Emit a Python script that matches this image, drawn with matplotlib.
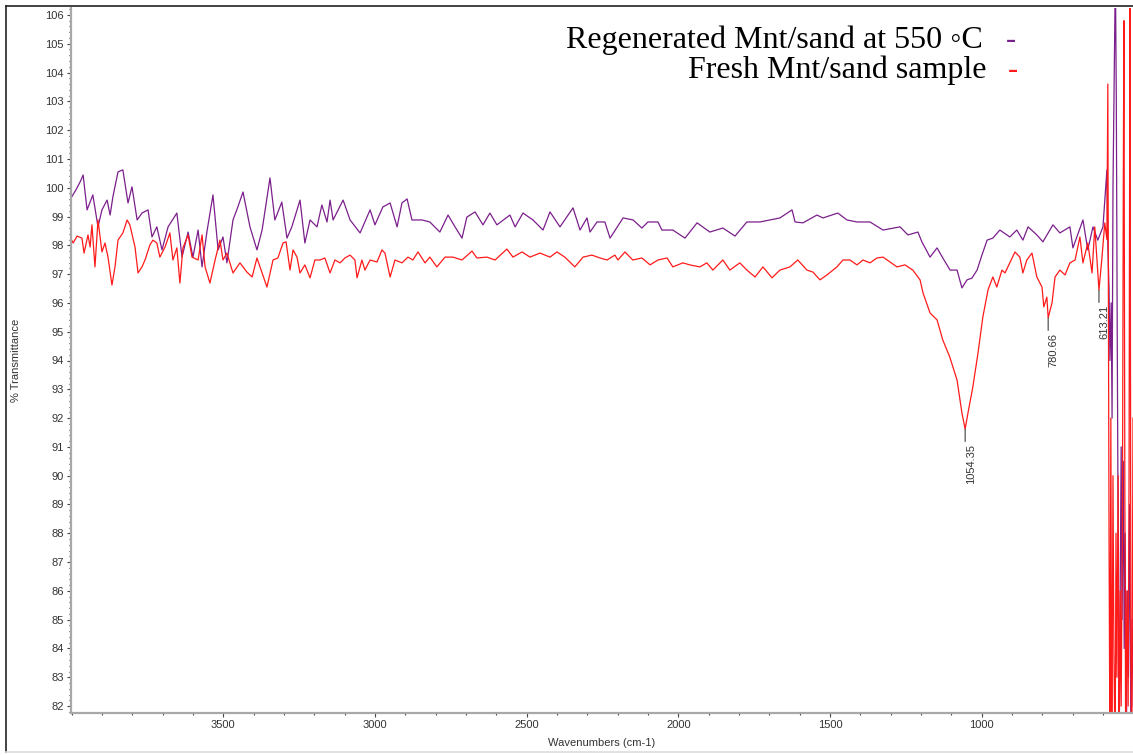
import matplotlib
matplotlib.use("Agg")
import matplotlib.pyplot as plt
from matplotlib.lines import Line2D
from matplotlib.ticker import MultipleLocator

# Regenerated Mnt/sand at 550 C  (purple)
regen_wn = [4002, 3986, 3972, 3962, 3949, 3930, 3913, 3900, 3883, 3873, 3864, 3847, 3831, 3814,
            3801, 3784, 3768, 3748, 3735, 3719, 3702, 3682, 3653, 3636, 3616, 3600, 3583, 3570,
            3554, 3534, 3517, 3501, 3488, 3468, 3452, 3435, 3412, 3389, 3372, 3346, 3330, 3307,
            3290, 3274, 3247, 3231, 3214, 3191, 3175, 3158, 3148, 3138, 3105, 3082, 3049, 3016,
            3000, 2974, 2950, 2927, 2911, 2894, 2878, 2845, 2819, 2786, 2759, 2736, 2713, 2697,
            2670, 2644, 2621, 2598, 2555, 2538, 2512, 2479, 2446, 2423, 2390, 2347, 2324, 2301,
            2291, 2268, 2242, 2225, 2182, 2149, 2120, 2100, 2067, 2054, 2018, 1978, 1938, 1896,
            1853, 1813, 1774, 1731, 1698, 1665, 1625, 1615, 1589, 1543, 1523, 1474, 1444, 1411,
            1368, 1325, 1269, 1243, 1210, 1197, 1170, 1147, 1128, 1104, 1081, 1065, 1048, 1032,
            1015, 999, 982, 963, 940, 907, 884, 864, 847, 818, 798, 765, 742, 709, 699, 666, 650,
            633, 617, 600, 587, 584, 580, 577, 573, 570, 567, 563, 559, 556, 553, 550, 547, 543,
            540, 537, 533, 530, 527, 523, 520, 516, 512, 508, 504, 500]
regen_t = [99.64, 99.92, 100.20, 100.44, 99.23, 99.75, 98.64, 99.23, 99.57, 99.05, 99.68, 100.55,
           100.62, 99.47, 100.03, 98.88, 99.12, 99.23, 98.29, 98.64, 97.84, 98.64, 99.12, 97.59,
           98.46, 97.59, 98.53, 97.25, 98.46, 99.75, 97.84, 98.29, 97.39, 98.88, 99.33, 99.85,
           98.64, 97.84, 98.53, 100.34, 98.88, 99.50, 98.25, 98.64, 99.57, 98.08, 98.88, 98.64,
           99.40, 98.81, 99.57, 98.88, 99.57, 98.88, 98.43, 99.23, 98.71, 99.33, 99.47, 98.64,
           99.47, 99.61, 98.88, 98.88, 98.81, 98.46, 99.05, 98.64, 98.25, 98.98, 99.16, 98.71,
           99.12, 98.71, 99.05, 98.64, 99.12, 98.88, 98.53, 99.16, 98.64, 99.30, 98.53, 98.95,
           98.46, 98.81, 98.81, 98.25, 98.95, 98.88, 98.60, 98.81, 98.81, 98.53, 98.53, 98.25,
           98.78, 98.46, 98.60, 98.32, 98.81, 98.81, 98.88, 98.95, 99.23, 98.81, 98.78, 99.05,
           98.95, 99.12, 98.88, 98.81, 98.81, 98.53, 98.64, 98.36, 98.46, 98.12, 97.59, 97.91,
           97.56, 97.14, 97.14, 96.52, 96.80, 96.86, 97.14, 97.66, 98.18, 98.25, 98.53, 98.29,
           98.53, 98.18, 98.64, 98.36, 98.12, 98.71, 98.43, 98.64, 97.91, 98.88, 97.84, 98.64,
           98.18, 98.64, 100.62, 98.0, 96.5, 94.0, 96.0, 92.0, 100.0, 104.0, 107.5, 103.0, 95.0,
           88.0, 80.0, 86.0, 91.0, 85.0, 90.5, 84.0, 88.0, 80.0, 86.0, 83.0, 89.0, 81.0, 85.0, 82.0]

# Fresh Mnt/sand sample (red)
fresh_wn = [4005, 3995, 3982, 3966, 3959, 3946, 3939, 3933, 3923, 3913, 3900, 3890, 3880, 3867,
            3857, 3847, 3831, 3817, 3808, 3791, 3781, 3768, 3758, 3742, 3732, 3719, 3709, 3692,
            3676, 3666, 3653, 3643, 3633, 3616, 3603, 3583, 3570, 3560, 3544, 3527, 3511, 3501,
            3488, 3468, 3445, 3422, 3405, 3389, 3372, 3356, 3336, 3320, 3303, 3293, 3280, 3270,
            3257, 3247, 3231, 3214, 3198, 3181, 3165, 3148, 3132, 3115, 3099, 3082, 3066, 3059,
            3043, 3033, 3016, 2993, 2977, 2967, 2950, 2934, 2911, 2891, 2875, 2858, 2835, 2819,
            2796, 2769, 2743, 2713, 2680, 2664, 2631, 2604, 2565, 2545, 2515, 2489, 2456, 2423,
            2400, 2374, 2341, 2314, 2285, 2258, 2235, 2209, 2199, 2176, 2150, 2120, 2093, 2067,
            2037, 2018, 1985, 1962, 1929, 1906, 1886, 1853, 1830, 1797, 1774, 1747, 1721, 1691,
            1665, 1632, 1606, 1576, 1556, 1533, 1510, 1477, 1457, 1434, 1411, 1391, 1368, 1345,
            1325, 1302, 1279, 1253, 1227, 1203, 1193, 1170, 1147, 1128, 1105, 1081, 1065, 1054.35,
            1045, 1029, 1012, 996, 979, 963, 950, 933, 923, 907, 890, 874, 864, 851, 834, 818,
            801, 795, 785, 780.66, 768, 758, 742, 725, 709, 692, 676, 666, 650, 636, 627, 613.21,
            604, 594, 587, 584, 580, 577, 574, 571, 567, 564, 560, 557, 554, 550, 547, 543, 540,
            536, 533, 531, 528, 525, 521, 517, 514, 511, 508, 505, 501]
fresh_t = [98.29, 98.08, 98.32, 98.25, 97.73, 98.36, 97.94, 98.71, 97.25, 98.88, 97.77, 98.08,
           97.59, 96.62, 97.25, 98.18, 98.43, 98.88, 98.71, 97.94, 97.04, 97.25, 97.49, 98.01,
           98.18, 98.08, 97.59, 97.94, 98.43, 97.49, 97.91, 96.69, 97.91, 98.36, 97.59, 97.49,
           98.36, 97.25, 96.69, 97.49, 98.18, 97.49, 97.73, 97.04, 97.39, 97.07, 96.90, 97.56,
           97.04, 96.55, 97.49, 97.56, 98.08, 98.12, 97.14, 97.84, 97.59, 97.04, 97.32, 96.87,
           97.49, 97.49, 97.56, 97.04, 97.49, 97.39, 97.56, 97.66, 97.49, 96.87, 97.49, 97.14,
           97.49, 97.42, 97.84, 97.73, 96.90, 97.49, 97.39, 97.59, 97.49, 97.77, 97.39, 97.59,
           97.25, 97.59, 97.59, 97.49, 97.80, 97.56, 97.59, 97.49, 97.87, 97.59, 97.77, 97.59,
           97.73, 97.59, 97.77, 97.59, 97.25, 97.59, 97.66, 97.56, 97.49, 97.66, 97.49, 97.77,
           97.49, 97.56, 97.32, 97.49, 97.56, 97.25, 97.39, 97.32, 97.25, 97.39, 97.14, 97.49,
           97.14, 97.39, 97.14, 96.90, 97.25, 96.87, 97.14, 97.25, 97.49, 97.14, 97.07, 96.80,
           96.97, 97.25, 97.49, 97.49, 97.32, 97.49, 97.39, 97.56, 97.59, 97.42, 97.25, 97.32,
           97.14, 96.80, 96.34, 95.65, 95.41, 94.71, 94.12, 93.32, 92.18, 91.62, 92.18, 93.08,
           94.26, 95.51, 96.45, 96.90, 96.55, 97.14, 97.04, 97.39, 97.77, 97.59, 97.04, 97.49,
           97.73, 96.90, 96.55, 95.86, 96.20, 95.48, 96.00, 96.90, 97.14, 96.97, 97.39, 97.49,
           98.29, 97.39, 98.08, 97.04, 98.64, 96.45, 97.49, 98.78, 98.2, 103.6, 88.0, 80.0, 92.0,
           79.0, 90.0, 84.0, 80.0, 88.0, 83.0, 90.0, 80.0, 86.0, 82.0, 88.0, 100.0, 105.8, 90.0,
           80.0, 86.0, 82.0, 90.0, 107.0, 84.0, 80.0, 92.0]

peak_wn = [1054.35, 780.66, 613.21]
peak_t = [91.62, 95.48, 96.45]
peak_labels = ["1054.35", "780.66", "613.21"]

legend_labels = ["Regenerated Mnt/sand at 550 \u25e6C", "Fresh Mnt/sand sample"]

W, H = 1133, 755
fig = plt.figure(figsize=(W / 100, H / 100), dpi=100)
ax = fig.add_axes([71 / W, 1 - 713 / H, 1 - 71 / W, (713 - 8) / H])

ax.plot(regen_wn, regen_t, color="#7b1f8c", lw=0.9)
ax.plot(fresh_wn, fresh_t, color="#ff1a1a", lw=0.9)

ax.set_xlim(4002, 501)
ax.set_ylim(81.76, 106.24)

ax.xaxis.set_major_locator(MultipleLocator(500))
ax.xaxis.set_minor_locator(MultipleLocator(100))
ax.yaxis.set_major_locator(MultipleLocator(1))
ax.yaxis.set_minor_locator(MultipleLocator(0.2))

tick_font = dict(family=["Liberation Sans", "DejaVu Sans"], size=8)
ax.set_xticks([3500, 3000, 2500, 2000, 1500, 1000])
ax.set_xticklabels(["3500", "3000", "2500", "2000", "1500", "1000"], **tick_font, color="#333333")
yt = list(range(82, 107))
ax.set_yticks(yt)
ax.set_yticklabels([str(v) for v in yt], **tick_font, color="#333333")

ax.tick_params(axis="both", which="major", length=3, width=0.8, color="#444444", pad=2)
ax.tick_params(axis="both", which="minor", length=1.5, width=0.8, color="#444444")

for s in ["top", "right"]:
    ax.spines[s].set_visible(False)
for s in ["left", "bottom"]:
    ax.spines[s].set_color("#a8a8a8")
    ax.spines[s].set_linewidth(1.6)

ax.set_xlabel("Wavenumbers (cm-1)", family=["Liberation Sans", "DejaVu Sans"], size=8,
              color="#333333", labelpad=6)
ax.set_ylabel("% Transmittance", family=["Liberation Sans", "DejaVu Sans"], size=8,
              color="#333333")
ax.yaxis.set_label_coords(-0.047, 0.5)

# peak labels
for wn, t, lab in zip(peak_wn, peak_t, peak_labels):
    ax.annotate("", xy=(wn, t), xytext=(0, -9), textcoords="offset points",
                arrowprops=dict(arrowstyle="-", color="#404040", lw=0.8, shrinkA=0, shrinkB=0))
    ax.annotate(lab, xy=(wn, t), xytext=(4, -11), textcoords="offset points",
                rotation=90, ha="center", va="top", fontsize=8, color="#333333",
                family=["Liberation Sans", "DejaVu Sans"])

# legend as text
serif = ["Liberation Serif", "DejaVu Serif"]
fig.text(983 / W, 1 - 48 / H, legend_labels[0], ha="right", va="baseline",
         fontsize=23, family=serif, color="black")
fig.text(987 / W, 1 - 78 / H, legend_labels[1], ha="right", va="baseline",
         fontsize=23, family=serif, color="black")
fig.text(1006 / W, 1 - 48 / H, "-", ha="left", va="baseline", fontsize=22, family=serif,
         color="#7b1f8c")
fig.text(1008 / W, 1 - 78 / H, "-", ha="left", va="baseline", fontsize=22, family=serif,
         color="#ff1a1a")

# outer frame
fig.add_artist(Line2D([6 / W, 6 / W], [1 - 6 / H, 1 - 752 / H], color="#222222", lw=1.2))
fig.add_artist(Line2D([6 / W, 1], [1 - 6 / H, 1 - 6 / H], color="#222222", lw=1.2))
fig.add_artist(Line2D([6 / W, 1], [1 - 752 / H, 1 - 752 / H], color="#dddddd", lw=1.2))

fig.savefig("out.png", dpi=100)
